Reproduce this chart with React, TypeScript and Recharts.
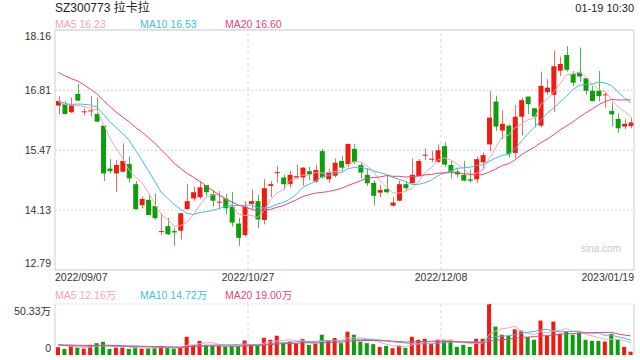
import { ComposedChart, Bar, Line, XAxis, YAxis, CartesianGrid, ReferenceLine, Cell } from 'recharts';

const dates = ['2022/09/07', '2022/10/27', '2022/12/08', '2023/01/19'];
const dateIdx = [0, 30, 60, 89];

const opens = [
  16.47, 16.5, 16.32, 16.73, 16.33, 16.35, 16.28, 16.02, 15.06, 14.95,
  14.99, 15.16, 14.71, 14.24, 14.36, 14.22, 13.65, 13.77, 13.66, 13.67,
  14.15, 14.39, 14.42, 14.69, 14.49, 14.31, 14.39, 14.21, 13.83, 13.57,
  14.27, 14.33, 13.91, 14.67, 14.97, 14.86, 14.71, 14.86, 14.86, 15.0,
  14.77, 15.45, 14.82, 14.9, 15.23, 15.16, 15.5, 15.14, 14.92, 14.74,
  14.52, 14.6, 14.23, 14.34, 14.71, 14.73, 14.89, 15.36, 15.27, 15.21,
  15.56, 15.14, 14.99, 14.92, 14.82, 14.82, 15.2, 15.6, 16.56, 15.91,
  16.02, 15.41, 16.22, 16.67, 16.41, 16.02, 16.77, 16.71, 17.25, 17.6,
  17.18, 17.21, 17.08, 16.8, 16.8, 16.71, 16.35, 16.17, 16.0, 16.01,
];
const highs = [
  16.68, 16.57, 16.65, 16.95, 16.41, 16.68, 16.65, 16.02, 15.27, 15.25,
  15.62, 15.33, 14.78, 14.43, 14.47, 14.5, 14.06, 13.96, 13.74, 14.06,
  14.71, 14.65, 14.77, 14.69, 14.58, 14.56, 14.49, 14.54, 13.96, 14.33,
  14.59, 14.47, 14.83, 14.78, 15.12, 14.92, 15.01, 15.15, 15.09, 15.1,
  15.15, 15.5, 15.05, 15.29, 15.34, 15.62, 15.61, 15.21, 15.06, 14.79,
  14.69, 14.92, 14.43, 14.79, 14.77, 15.29, 15.27, 15.51, 15.46, 15.6,
  15.65, 15.23, 15.08, 15.23, 15.03, 15.33, 15.42, 16.8, 16.69, 16.37,
  16.05, 16.48, 16.65, 16.67, 16.41, 17.23, 17.06, 17.7, 17.56, 17.8,
  17.24, 17.77, 17.08, 16.91, 17.24, 16.78, 16.54, 16.3, 16.16, 16.2,
];
const lows = [
  16.27, 16.27, 16.3, 16.57, 16.26, 16.22, 16.11, 14.78, 14.95, 14.54,
  14.97, 14.74, 14.15, 14.17, 14.02, 13.92, 13.57, 13.57, 13.33, 13.47,
  14.15, 14.34, 14.38, 14.44, 14.21, 14.17, 14.04, 13.76, 13.33, 13.54,
  14.13, 13.72, 13.81, 14.42, 14.74, 14.58, 14.64, 14.82, 14.68, 14.8,
  14.74, 14.84, 14.74, 14.86, 14.99, 15.09, 15.16, 14.83, 14.67, 14.24,
  14.42, 14.51, 14.21, 14.34, 14.56, 14.73, 14.88, 15.25, 15.2, 15.19,
  15.1, 14.84, 14.86, 14.77, 14.74, 14.73, 15.03, 15.45, 15.9, 15.71,
  15.31, 15.29, 15.8, 16.28, 15.98, 15.98, 16.71, 16.32, 17.13, 17.23,
  16.91, 17.0, 16.71, 16.56, 16.56, 16.42, 16.0, 15.86, 15.94, 15.96,
];
const closes = [
  16.57, 16.28, 16.47, 16.58, 16.34, 16.36, 16.11, 14.95, 15.0, 15.14,
  15.23, 14.84, 14.15, 14.38, 14.02, 13.95, 13.66, 13.59, 13.63, 14.06,
  14.33, 14.53, 14.64, 14.53, 14.34, 14.32, 14.17, 13.85, 13.51, 14.21,
  14.33, 13.92, 14.62, 14.71, 14.98, 14.71, 14.92, 14.89, 15.08, 14.93,
  15.03, 14.86, 14.97, 15.19, 15.08, 15.61, 15.21, 14.97, 14.73, 14.45,
  14.58, 14.53, 14.3, 14.71, 14.62, 14.92, 15.23, 15.37, 15.28, 15.47,
  15.15, 14.99, 14.93, 14.79, 14.79, 15.27, 15.36, 16.2, 16.0, 16.06,
  15.39, 16.22, 16.59, 16.5, 16.22, 16.91, 16.87, 17.35, 17.4, 17.27,
  16.98, 17.12, 16.8, 16.57, 16.68, 16.72, 16.27, 15.96, 16.06, 16.09,
];
// volume in 万 shares
const volumes = [
  7.7, 6.0, 9.0, 7.3, 6.3, 10.0, 11.7, 13.0, 6.0, 7.3,
  7.3, 6.0, 7.7, 6.0, 6.7, 7.3, 9.0, 7.3, 6.3, 7.7,
  18.0, 10.0, 14.0, 10.0, 9.0, 9.0, 8.3, 9.0, 9.0, 14.3,
  9.7, 9.0, 17.0, 15.0, 19.0, 11.7, 13.3, 11.3, 15.7, 10.0,
  11.0, 20.0, 14.0, 16.7, 11.7, 23.0, 20.0, 13.3, 11.7, 10.7,
  8.0, 9.0, 6.7, 9.3, 7.0, 18.0, 15.0, 16.0, 11.0, 15.0,
  15.0, 15.0, 8.0, 10.0, 8.0, 16.0, 16.0, 50.33, 28.0, 20.0,
  19.0, 25.3, 24.0, 17.7, 15.0, 34.0, 19.0, 33.0, 21.0, 23.3,
  20.0, 22.3, 15.0, 14.0, 14.0, 13.3, 21.0, 15.0, 8.0, 3.3,
];
// sessions before the first visible candle, only used to start the moving averages
const priorCloses = [17.7, 17.8, 17.6, 18.1, 18.3, 18.2, 17.9, 17.6, 17.8, 17.4, 16.9, 16.7, 16.5, 16.4, 16.5, 16.6, 16.5, 16.7, 16.43];
const priorVolumes = [12.5, 9.8, 11.2, 8.6, 10.4, 13.1, 9.2, 7.9, 10.8, 11.6, 9.4, 8.7, 10.1, 12.2, 9.6, 8.8, 11.3, 9.9, 10.5];

const priceTicks = [12.79, 14.13, 15.47, 16.81, 18.16];
const volTicks = [0, 50.33];
const priceLegend = ['16.23', '16.53', '16.60'];
const volLegend = ['12.16万', '14.72万', '19.00万'];

const RED = '#f2190e';
const GREEN = '#0b9f0b';
const RED_WICK = '#f56a62';
const GREEN_WICK = '#4cbc4c';
const MA5_C = '#f7a3bf';
const MA10_C = '#3dbfdc';
const MA20_C = '#e8457b';
const BORDER = '#cfcfcf';
const GRID = '#d6d6d6';
const FONT = "'Liberation Sans', Arial, 'Noto Sans CJK SC', sans-serif";

const N = closes.length;

function movingAvg(prior: number[], vals: number[], n: number) {
  const all = [...prior, ...vals];
  return vals.map((_, i) => {
    const end = prior.length + i;
    let s = 0;
    for (let k = end - n + 1; k <= end; k++) s += all[k];
    return s / n;
  });
}

const ma5 = movingAvg(priorCloses, closes, 5);
const ma10 = movingAvg(priorCloses, closes, 10);
const ma20 = movingAvg(priorCloses, closes, 20);
const vma5 = movingAvg(priorVolumes, volumes, 5);
const vma10 = movingAvg(priorVolumes, volumes, 10);
const vma20 = movingAvg(priorVolumes, volumes, 20);

const data = closes.map((c, i) => ({
  pos: i + 0.5,
  open: opens[i],
  high: highs[i],
  low: lows[i],
  close: c,
  up: c >= opens[i],
  vol: volumes[i],
  ma5: ma5[i],
  ma10: ma10[i],
  ma20: ma20[i],
  vma5: vma5[i],
  vma10: vma10[i],
  vma20: vma20[i],
}));

// first / last date labels sit on the plot edges, the others on the session boundary
const dateTicks = dateIdx.map((d, k) => (k === dateIdx.length - 1 ? d + 1 : d));
const gridDates = dateTicks.slice(1, -1);

function Candle(props: any) {
  const { x, y, width, height, payload } = props;
  const { open, close, high, low } = payload;
  const up = close >= open;
  const ratio = height / (high - low || 1);
  const yOf = (v: number) => y + (high - v) * ratio;
  const top = yOf(Math.max(open, close));
  const bot = yOf(Math.min(open, close));
  const cx = Math.round(x + width / 2) + 0.5;
  return (
    <g>
      <line x1={cx} x2={cx} y1={y} y2={y + height} stroke={up ? RED_WICK : GREEN_WICK} strokeWidth={1} />
      <rect x={x} y={top} width={width} height={Math.max(bot - top, 1)} fill={up ? RED : GREEN} />
    </g>
  );
}

function PriceTick(props: any) {
  const { x, y, payload } = props;
  const v = payload.value;
  const shift = v === priceTicks[priceTicks.length - 1] ? 6 : v === priceTicks[0] ? -7 : 0;
  return (
    <text x={x} y={y + shift} dy="0.35em" textAnchor="end" fontSize={10.5} fill="#333" fontFamily={FONT}>
      {v.toFixed(2)}
    </text>
  );
}

function VolTick(props: any) {
  const { x, y, payload } = props;
  const v = payload.value;
  const top = v === volTicks[volTicks.length - 1];
  return (
    <text x={x} y={y + (top ? 7 : -7)} dy="0.35em" textAnchor="end" fontSize={10.5} fill="#333" fontFamily={FONT}>
      {top ? v.toFixed(2) + '万' : '0'}
    </text>
  );
}

function DateTick(props: any) {
  const { x, y, payload } = props;
  const k = dateTicks.indexOf(payload.value);
  const anchor = k === 0 ? 'start' : k === dateTicks.length - 1 ? 'end' : 'middle';
  return (
    <text x={x} y={y} dy="0.71em" textAnchor={anchor} fontSize={10.5} fill="#333" fontFamily={FONT}>
      {dates[k]}
    </text>
  );
}

function Legend({ top, values }: { top: number; values: string[] }) {
  const colors = [MA5_C, MA10_C, MA20_C];
  const names = ['MA5', 'MA10', 'MA20'];
  const lefts = [55, 140, 225];
  return (
    <>
      {values.map((v, k) => (
        <div
          key={names[k]}
          style={{ position: 'absolute', left: lefts[k], top, fontSize: 10.5, lineHeight: '12px', color: colors[k], whiteSpace: 'nowrap' }}
        >
          {names[k]} {v}
        </div>
      ))}
    </>
  );
}

export default function App() {
  return (
    <div style={{ position: 'absolute', left: 0, top: 0, width: 640, height: 360, background: '#fff', fontFamily: FONT, overflow: 'hidden' }}>
      <div style={{ position: 'absolute', left: 55, top: 1, fontSize: 12, lineHeight: '14px', color: '#222' }}>SZ300773 拉卡拉</div>
      <div style={{ position: 'absolute', right: 6, top: 2, fontSize: 11, lineHeight: '12px', color: '#222' }}>01-19 10:30</div>
      <Legend top={18} values={priceLegend} />

      <div style={{ position: 'absolute', left: 0, top: 0 }}>
        <ComposedChart width={640} height={292} data={data} margin={{ top: 30, right: 6, bottom: 0, left: 0 }}>
          <CartesianGrid horizontal vertical={false} stroke={GRID} strokeDasharray="2 2" />
          <XAxis
            dataKey="pos"
            type="number"
            domain={[0, N]}
            ticks={dateTicks}
            interval={0}
            height={22}
            axisLine={false}
            tickLine={false}
            tickSize={0}
            tickMargin={4}
            tick={<DateTick />}
          />
          <YAxis
            domain={[priceTicks[0], priceTicks[priceTicks.length - 1]]}
            ticks={priceTicks}
            interval={0}
            width={55}
            axisLine={false}
            tickLine={false}
            tickSize={0}
            tickMargin={4}
            tick={<PriceTick />}
            allowDataOverflow
          />
          {gridDates.map((d) => (
            <ReferenceLine key={d} x={d} stroke={GRID} strokeDasharray="3 3" />
          ))}
          <ReferenceLine y={priceTicks[priceTicks.length - 1]} stroke={BORDER} />
          <ReferenceLine y={priceTicks[0]} stroke={BORDER} />
          <ReferenceLine x={0} stroke={BORDER} />
          <ReferenceLine x={N} stroke={BORDER} />
          <Bar dataKey={(d: any) => [d.low, d.high]} barSize={5} shape={(p: any) => <Candle {...p} />} isAnimationActive={false} />
          <Line dataKey="ma5" stroke={MA5_C} strokeWidth={1} dot={false} isAnimationActive={false} />
          <Line dataKey="ma10" stroke={MA10_C} strokeWidth={1} dot={false} isAnimationActive={false} />
          <Line dataKey="ma20" stroke={MA20_C} strokeWidth={1} dot={false} isAnimationActive={false} />
        </ComposedChart>
      </div>

      <div style={{ position: 'absolute', left: 581, top: 243, fontSize: 10, lineHeight: '12px', color: '#c8c8c8' }}>sina.com</div>

      <Legend top={289} values={volLegend} />

      <div style={{ position: 'absolute', left: 0, top: 292 }}>
        <ComposedChart width={640} height={68} data={data} margin={{ top: 12, right: 6, bottom: 5, left: 0 }}>
          <XAxis dataKey="pos" type="number" domain={[0, N]} hide />
          <YAxis
            domain={[volTicks[0], volTicks[1]]}
            ticks={volTicks}
            interval={0}
            width={55}
            axisLine={false}
            tickLine={false}
            tickSize={0}
            tickMargin={4}
            tick={<VolTick />}
            allowDataOverflow
          />
          {gridDates.map((d) => (
            <ReferenceLine key={d} x={d} stroke={GRID} strokeDasharray="3 3" />
          ))}
          <ReferenceLine y={volTicks[1]} stroke={GRID} strokeDasharray="2 2" />
          <ReferenceLine x={0} stroke={BORDER} />
          <ReferenceLine x={N} stroke={BORDER} />
          <Bar dataKey="vol" barSize={4} isAnimationActive={false}>
            {data.map((d) => (
              <Cell key={d.pos} fill={d.up ? RED : GREEN} />
            ))}
          </Bar>
          <Line dataKey="vma5" stroke={MA5_C} strokeWidth={1} dot={false} isAnimationActive={false} />
          <Line dataKey="vma10" stroke={MA10_C} strokeWidth={1} dot={false} isAnimationActive={false} />
          <Line dataKey="vma20" stroke={MA20_C} strokeWidth={1} dot={false} isAnimationActive={false} />
        </ComposedChart>
      </div>
    </div>
  );
}
